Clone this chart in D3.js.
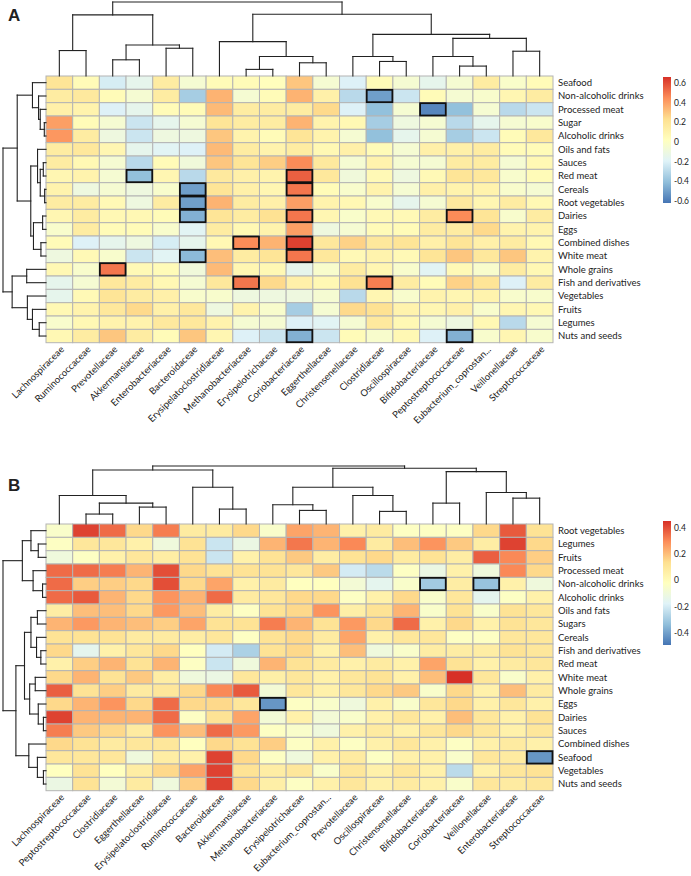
<!DOCTYPE html>
<html><head><meta charset="utf-8">
<script src="https://cdn.jsdelivr.net/npm/d3@7"></script>
<style>body{margin:0;background:#fff}svg{display:block}text{font-family:Lato,"Open Sans",sans-serif;fill:#222}</style>
</head><body><svg id="chart" width="691" height="876"></svg>
<script>
// ---------------- Panel A data ----------------
const colsA = ["Lachnospiraceae","Ruminococcaceae","Prevotellaceae","Akkermansiaceae","Enterobacteriaceae","Bacteroidaceae","Erysipelatoclostridiaceae","Methanobacteriaceae","Erysipelotrichaceae","Coriobacteriaceae","Eggerthellaceae","Christensenellaceae","Clostridiaceae","Oscillospiraceae","Bifidobacteriaceae","Peptostreptococcaceae","Eubacterium_coprostan...","Veillonellaceae","Streptococcaceae"];
const rowsA = ["Seafood","Non-alcoholic drinks","Processed meat","Sugar","Alcoholic drinks","Oils and fats","Sauces","Red meat","Cereals","Root vegetables","Dairies","Eggs","Combined dishes","White meat","Whole grains","Fish and derivatives","Vegetables","Fruits","Legumes","Nuts and seeds"];
const valuesA = [
 [0.2,0.05,-0.22,-0.15,0.15,-0.05,0.05,0.05,0.03,0.3,-0.05,-0.2,0.05,-0.05,-0.15,-0.05,0.15,-0.02,0.05],
 [0.15,0.17,0.05,-0.05,0.15,-0.35,0.35,-0.05,0.05,0.35,0.12,-0.3,-0.5,-0.25,0.05,-0.05,-0.03,0.08,0.15],
 [0.12,0.1,-0.2,-0.15,0.05,0.05,0.33,0.15,0.15,0.15,0.25,-0.2,-0.4,-0.05,-0.57,-0.4,-0.05,-0.3,-0.25],
 [0.4,0.05,-0.05,-0.25,-0.15,-0.05,0.2,0.15,0.15,0.35,0.1,0.07,-0.35,-0.1,-0.05,-0.3,-0.15,-0.05,-0.03],
 [0.42,0.15,-0.1,-0.25,-0.1,-0.1,0.3,0.1,0.05,0.2,0.1,-0.05,-0.4,-0.15,-0.05,-0.35,-0.25,0.05,0.18],
 [0.15,0.18,0.08,-0.15,-0.18,-0.2,0.33,0.15,0.1,0.15,0.07,0.12,0.05,-0.05,0.12,0.12,0.15,0.05,0.05],
 [0.15,0.07,-0.05,-0.3,0.05,-0.08,0.3,0.2,0.28,0.45,0.17,-0.05,0.1,-0.05,-0.05,0.15,0.15,-0.05,0.07],
 [0.08,0.1,-0.05,-0.4,0.08,-0.3,0.17,0.12,0.1,0.55,0.18,-0.08,0.06,-0.1,0.06,0.2,0.18,-0.03,0.05],
 [0.1,-0.1,-0.05,-0.1,-0.03,-0.5,0.2,0.12,0.08,0.5,0.05,-0.03,0.1,-0.05,0.12,0.1,0.1,-0.03,-0.05],
 [0.15,0.15,0.06,-0.1,0.15,-0.5,0.35,0.15,0.12,0.4,0.1,0.07,-0.03,-0.15,-0.05,0.17,0.08,0.15,0.07],
 [0.08,0.15,0.07,0.07,0.05,-0.45,0.2,0.15,0.22,0.5,0.08,-0.02,0.06,0.06,0.15,0.45,0.2,-0.03,0.15],
 [-0.03,0.15,0.05,0.05,-0.03,-0.18,0.15,0.07,0.1,0.4,-0.1,-0.05,0.05,0.05,0.15,0.15,0.25,0.1,0.1],
 [0.05,-0.2,-0.15,-0.1,-0.22,-0.15,0.07,0.45,0.35,0.62,0.18,0.27,0.18,0.2,0.12,0.2,0.12,0.15,0.07],
 [-0.1,0.06,-0.03,-0.25,-0.18,-0.42,0.32,0.15,0.2,0.5,0.18,0.06,0.1,0.06,0.2,0.3,0.18,0.3,0.1],
 [0.07,-0.03,0.5,0.06,0.05,-0.08,0.33,0.08,0.07,-0.15,-0.03,0.15,0.08,-0.03,-0.18,0.06,-0.03,0.15,0.07],
 [-0.15,-0.05,0.18,0.15,0.07,-0.05,0.18,0.5,0.25,0.12,0.07,0.22,0.48,0.15,0.05,0.27,0.2,-0.2,0.15],
 [-0.15,0.06,0.2,0.15,0.12,-0.03,-0.03,-0.1,-0.1,-0.1,-0.05,-0.3,0.08,-0.03,0.1,0.08,0.1,-0.03,-0.03],
 [0.07,0.1,0.18,0.25,0.12,0.18,-0.1,0.1,-0.03,-0.35,-0.05,0.25,0.22,0.1,0.08,0.12,-0.03,0.08,0.07],
 [-0.03,0.07,0.1,0.1,0.17,0.18,0.1,-0.05,-0.05,-0.2,-0.18,-0.05,0.17,0.07,-0.05,-0.1,0.07,-0.3,-0.05],
 [0.07,0.15,0.3,0.15,0.05,0.3,0.08,-0.2,-0.25,-0.45,-0.25,0.05,-0.03,0.07,-0.2,-0.45,-0.03,0.08,-0.03]
];
const boxesA = [[1,12],[2,14],[7,3],[7,9],[8,5],[8,9],[9,5],[10,5],[10,9],[10,15],[12,7],[12,9],[13,5],[13,9],[14,2],[15,7],[15,12],[19,9],[19,15]];
// dendrograms: [left, right, height]; numbers = leaf index
const colTreeA = [[[0,1,77],[[2,3,49],[4,5,84],94],185],[[6,[[7,8,20],[9,10,40],59],104],[[11,[12,13,44],59],[[14,[15,16,30],59],[17,18,75],114],126],187],224];
const rowTreeA = [[[0,[1,[2,[3,4,5],17],22],40],[[5,[[6,7,8],[8,9,4],17],25],[[10,11,10],[12,13,15],37],45],85],[[14,15,57],[16,[17,[18,19,20],40],55],100],127];
const legendTicksA = [0.6,0.4,0.2,0,-0.2,-0.4,-0.6];

// ---------------- Panel B data ----------------
const colsB = ["Lachnospiraceae","Peptostreptococcaceae","Clostridiaceae","Eggerthellaceae","Erysipelatoclostridiaceae","Ruminococcaceae","Bacteroidaceae","Akkermansiaceae","Methanobacteriaceae","Erysipelotrichaceae","Eubacterium_coprostan...","Prevotellaceae","Oscillospiraceae","Christensenellaceae","Bifidobacteriaceae","Coriobacteriaceae","Veillonellaceae","Enterobacteriaceae","Streptococcaceae"];
const rowsB = ["Root vegetables","Legumes","Fruits","Processed meat","Non-alcoholic drinks","Alcoholic drinks","Oils and fats","Sugars","Cereals","Fish and derivatives","Red meat","White meat","Whole grains","Eggs","Dairies","Sauces","Combined dishes","Seafood","Vegetables","Nuts and seeds"];
const valuesB = [
 [-0.05,0.42,0.35,0.15,0.32,0.08,0.08,0.15,-0.05,0.25,0.22,0.05,0.08,-0.03,-0.03,-0.03,0.15,0.38,0.12],
 [-0.03,0.1,0.1,0.05,-0.1,0.12,-0.22,-0.12,0.22,0.33,0.22,0.3,0.08,0.2,0.28,0.18,0.07,0.42,0.15],
 [-0.1,-0.03,0.05,0.1,0.07,0.12,-0.22,0.05,0.12,0.18,0.07,0.12,0.15,0.08,0.12,0.07,0.37,0.3,0.17],
 [0.35,0.35,0.32,0.22,0.4,0.15,0.12,0.12,0.12,0.1,0.18,-0.2,-0.25,-0.03,-0.12,0.05,-0.1,0.3,0.15],
 [0.35,0.17,0.17,0.15,0.4,0.15,0.25,0.05,0.08,-0.02,-0.02,-0.08,-0.15,-0.05,-0.3,0.07,-0.32,0.05,-0.1],
 [0.35,0.38,0.22,0.15,0.28,0.22,0.35,0.08,0.1,0.15,0.15,-0.03,0.05,0.15,-0.05,0.1,-0.15,-0.03,0.05],
 [0.07,0.2,0.2,0.15,0.27,0.2,0.07,-0.03,0.12,0.15,0.28,0.06,0.12,0.22,-0.05,0.12,-0.05,0.12,0.1],
 [0.22,0.27,0.22,0.2,0.17,0.25,0.12,0.12,0.32,0.22,0.12,0.27,0.15,0.35,0.05,0.15,0.05,0.12,0.1],
 [0.12,0.12,0.12,0.08,0.08,0.07,0.1,-0.03,0.12,0.15,0.08,0.25,0.05,0.1,0.1,-0.03,-0.03,0.1,0.1],
 [0.15,-0.15,0.05,0.1,0.15,-0.02,-0.2,-0.28,0.12,0.15,0.05,0.2,-0.1,-0.05,0.07,0.07,0.07,0.12,0.1],
 [0.05,0.17,0.22,0.12,0.22,-0.03,-0.22,-0.1,0.22,0.12,0.08,0.05,0.08,0.05,0.25,0.12,0.05,0.08,0.1],
 [0.15,0.22,0.12,0.18,0.07,-0.1,-0.12,0.1,0.06,0.1,0.05,0.1,0.12,0.05,0.2,0.45,0.1,-0.05,0.05],
 [0.37,0.12,0.17,0.08,0.1,0.15,0.3,0.38,-0.08,0.1,0.05,0.1,0.15,0.18,-0.05,0.15,0.05,0.2,0.08],
 [0.15,0.22,0.28,0.15,0.35,0.15,0.15,0.1,-0.42,-0.03,-0.05,-0.1,0.05,-0.05,0.1,0.15,0.05,0.1,0.05],
 [0.42,0.22,0.22,0.22,0.35,-0.03,0.12,0.25,-0.08,0.05,-0.08,-0.05,0.05,0.1,0.05,0.2,0.1,0.05,0.12],
 [0.32,0.18,0.15,0.08,0.28,0.2,0.35,0.27,-0.03,-0.05,-0.1,0.05,0.08,0.05,0.1,0.15,0.1,0.05,0.1],
 [0.15,0.12,0.08,0.1,0.1,-0.02,0.15,0.12,0.17,-0.03,0.05,-0.03,0.05,0.1,0.05,-0.03,0.05,0.08,0.05],
 [0.1,0.1,0.1,-0.1,0.07,0.05,0.42,0.15,-0.03,-0.1,0.05,0.08,-0.03,0.05,0.05,-0.05,0.1,0.08,-0.42],
 [-0.02,0.12,-0.02,0.07,0.15,0.25,0.42,0.12,0.07,0.1,-0.05,0.1,0.05,0.1,0.05,-0.25,0.05,0.1,0.12],
 [-0.12,0.12,-0.08,0.08,-0.1,0.17,0.42,0.15,0.06,-0.03,0.05,0.1,0.05,0.08,0.05,-0.05,0.1,0.08,0.1]
];
const boxesB = [[4,14],[4,16],[13,8],[17,18]];
const colTreeB = [[[0,[[1,2,30],[3,4,51],63],86],[5,[6,7,45],111],163],[[[8,[9,10,41],58],[11,[12,13,38],86],111],[[14,15,63],[16,[17,18,78],95],158],168],175];
const rowTreeB = [[[0,[1,2,18],35],[3,[4,5,8],30],55],[[[[6,7,20],[8,[9,10,12],22],35],[[11,12,25],[13,[14,15,6],18],38],50],[16,[17,[18,19,6],20],40],70],100];
const legendTicksB = [0.4,0.2,0,-0.2,-0.4];

// ---------------- drawing ----------------
const palette = ["#4575B4","#91BFDB","#E0F3F8","#FFFFBF","#FEE090","#FC8D59","#D73027"];
const svg = d3.select("#chart");

function drawPanel(o) {
  const g = svg.append("g");
  const nC = o.cols.length, nR = o.rows.length;
  const x = d3.scaleBand().domain(d3.range(nC)).range([o.x0, o.x1]);
  const y = d3.scaleBand().domain(d3.range(nR)).range([o.y0, o.y1]);
  const stops = d3.range(7).map(i => o.lo + i * (o.hi - o.lo) / 6);
  const color = d3.scaleLinear().domain(stops).range(palette).clamp(true);

  const cells = [];
  o.values.forEach((r, i) => r.forEach((v, j) => cells.push({i, j, v})));
  g.append("g").selectAll("rect").data(cells).join("rect")
    .attr("x", d => x(d.j)).attr("y", d => y(d.i))
    .attr("width", x.bandwidth()).attr("height", y.bandwidth())
    .attr("fill", d => color(d.v)).attr("stroke", "#b4b4b4").attr("stroke-width", 1);
  g.append("g").selectAll("rect").data(o.boxes).join("rect")
    .attr("x", d => x(d[1]) + 0.5).attr("y", d => y(d[0]) + 0.5)
    .attr("width", x.bandwidth() - 1).attr("height", y.bandwidth() - 1)
    .attr("fill", "none").attr("stroke", "#111").attr("stroke-width", 1.8);

  g.append("g").selectAll("text").data(o.rows).join("text")
    .attr("x", o.x1 + 5).attr("y", (d, i) => y(i) + y.bandwidth() / 2)
    .attr("dy", "0.35em").attr("font-size", 9.5).text(d => d);
  g.append("g").selectAll("text").data(o.cols).join("text")
    .attr("transform", (d, j) => `translate(${x(j) + x.bandwidth() / 2 + 3},${o.y1 + 5}) rotate(-45)`)
    .attr("text-anchor", "end").attr("dy", "0.35em").attr("font-size", 9.5).text(d => d);

  function dendro(tree, leafPos, hScale, vertical) {
    const segs = [];
    (function walk(n) {
      if (typeof n === "number") return {p: leafPos(n), h: 0};
      const a = walk(n[0]), b = walk(n[1]), h = n[2];
      segs.push([a.p, a.h, a.p, h], [a.p, h, b.p, h], [b.p, h, b.p, b.h]);
      return {p: (a.p + b.p) / 2, h};
    })(tree);
    g.append("g").selectAll("line").data(segs).join("line")
      .attr("x1", s => vertical ? s[0] : hScale(s[1]))
      .attr("y1", s => vertical ? hScale(s[1]) : s[0])
      .attr("x2", s => vertical ? s[2] : hScale(s[3]))
      .attr("y2", s => vertical ? hScale(s[3]) : s[2])
      .attr("stroke", "#222").attr("stroke-width", 1.1).attr("stroke-linecap", "square");
  }
  dendro(o.colTree, j => x(j) + x.bandwidth() / 2,
    d3.scaleLinear().domain([0, o.colTree[2]]).range([o.y0, o.colTop]), true);
  dendro(o.rowTree, i => y(i) + y.bandwidth() / 2,
    d3.scaleLinear().domain([0, o.rowTree[2]]).range([o.x0, o.rowLeft]), false);

  g.append("text").attr("x", o.letterX).attr("y", o.letterY)
    .attr("font-size", 17).attr("font-weight", "bold")
    .style("font-family", "'Liberation Sans',Arial,sans-serif").text(o.letter);

  const ls = d3.scaleLinear().domain([o.lo, o.hi]).range([o.legB, o.legT]);
  const gradId = "grad" + o.letter;
  const grad = svg.append("defs").append("linearGradient").attr("id", gradId)
    .attr("x1", 0).attr("y1", 1).attr("x2", 0).attr("y2", 0);
  stops.forEach((s, k) => grad.append("stop").attr("offset", k / 6).attr("stop-color", palette[k]));
  g.append("rect").attr("x", o.legX).attr("y", o.legT).attr("width", 8)
    .attr("height", o.legB - o.legT).attr("fill", `url(#${gradId})`);
  g.append("g").selectAll("text").data(o.ticks).join("text")
    .attr("x", o.legX + 11).attr("y", d => ls(d)).attr("dy", "0.35em")
    .attr("font-size", 8.5).text(d => String(d));
}

drawPanel({letter: "A", letterX: 8, letterY: 21, cols: colsA, rows: rowsA, values: valuesA, boxes: boxesA,
  colTree: colTreeA, rowTree: rowTreeA, x0: 46, x1: 553, y0: 76, y1: 342.7, colTop: 2, rowLeft: 3,
  lo: -0.62, hi: 0.66, legX: 663, legT: 77, legB: 203, ticks: legendTicksA});
drawPanel({letter: "B", letterX: 8, letterY: 491, cols: colsB, rows: rowsB, values: valuesB, boxes: boxesB,
  colTree: colTreeB, rowTree: rowTreeB, x0: 46, x1: 553, y0: 524, y1: 790.7, colTop: 466, rowLeft: 3,
  lo: -0.49, hi: 0.45, legX: 663, legT: 521, legB: 645, ticks: legendTicksB});
</script></body></html>
